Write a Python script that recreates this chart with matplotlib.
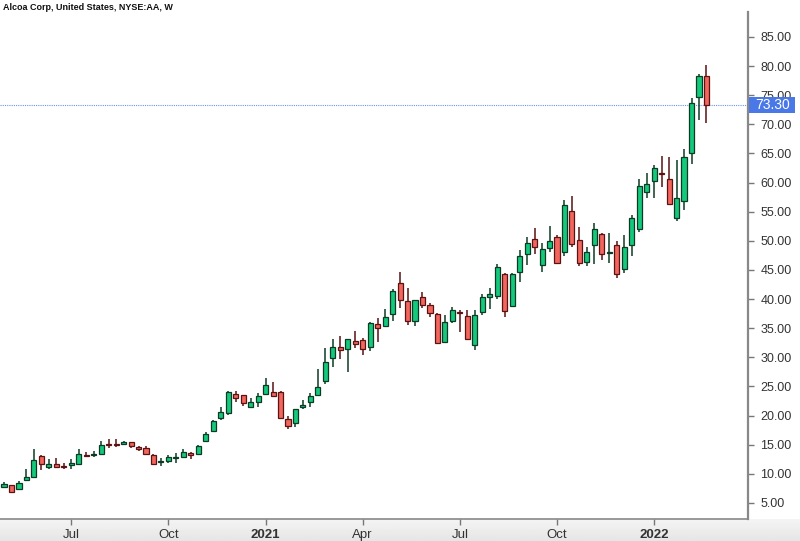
import matplotlib
matplotlib.use('Agg')
import matplotlib.pyplot as plt
import matplotlib.transforms as mtransforms
from matplotlib.patches import Rectangle
import numpy as np
import pandas as pd

TITLE = 'Alcoa Corp, United States, NYSE:AA, W'
FIRST_WEEK = '2020-05-04'

opens = [7.70, 8.00, 7.35, 8.90, 9.50, 13.05, 11.20, 11.75, 11.30, 11.60,
         11.75, 13.30, 13.20, 13.40, 15.15, 15.10, 15.05, 15.40, 14.60, 14.40,
         13.25, 12.00, 12.25, 12.70, 12.95, 13.50, 13.35, 15.65, 17.40, 19.55,
         20.40, 23.75, 23.50, 21.55, 22.40, 23.75, 24.10, 24.10, 19.40, 18.70,
         21.50, 22.40, 23.60, 26.00, 29.85, 31.70, 31.50, 32.80, 32.90, 31.70,
         35.70, 35.40, 37.40, 42.80, 39.70, 36.30, 40.40, 39.00, 37.40, 32.70,
         36.30, 37.75, 37.05, 32.20, 37.75, 40.30, 40.55, 44.30, 38.80, 44.60,
         47.75, 50.30, 45.85, 48.70, 50.70, 48.05, 55.10, 50.15, 46.30, 49.30,
         51.20, 47.90, 49.25, 45.10, 49.30, 52.00, 58.45, 60.30, 61.70, 60.60,
         54.00, 56.90, 65.00, 74.65, 78.30]
highs = [8.55, 8.10, 8.80, 10.90, 14.20, 13.30, 12.50, 12.65, 11.80, 12.50,
         14.20, 13.80, 13.90, 15.70, 16.00, 15.90, 15.70, 15.50, 14.80, 14.70,
         13.40, 12.70, 13.30, 13.50, 14.20, 13.70, 14.90, 17.10, 19.30, 21.40,
         24.30, 24.30, 23.60, 22.95, 23.80, 26.40, 25.70, 24.30, 19.90, 21.20,
         22.60, 23.80, 28.05, 31.60, 33.15, 33.70, 33.20, 34.50, 33.30, 36.10,
         36.70, 38.25, 41.70, 44.60, 41.90, 39.90, 41.30, 39.30, 37.60, 37.30,
         38.70, 38.10, 38.10, 38.10, 40.90, 41.90, 46.00, 44.50, 44.40, 48.40,
         50.60, 52.15, 49.70, 52.60, 51.00, 57.00, 57.70, 52.30, 49.00, 53.00,
         51.30, 51.40, 50.00, 51.00, 54.40, 60.70, 61.70, 63.00, 64.60, 64.45,
         63.90, 65.70, 74.60, 78.60, 80.10]
lows = [7.65, 6.80, 7.30, 8.80, 9.40, 10.70, 10.90, 11.00, 10.90, 10.90,
        11.50, 12.90, 12.90, 13.20, 14.50, 14.60, 14.90, 14.40, 13.95, 13.40,
        11.55, 11.40, 11.90, 11.80, 12.80, 12.50, 13.30, 15.40, 17.20, 19.30,
        20.10, 22.40, 21.70, 21.50, 21.50, 23.50, 23.20, 19.50, 17.65, 18.00,
        21.20, 21.40, 23.40, 25.50, 28.40, 29.70, 27.40, 31.60, 30.35, 31.10,
        32.70, 35.30, 36.20, 38.40, 35.60, 35.30, 38.40, 37.00, 32.30, 32.60,
        35.95, 34.40, 33.00, 31.30, 37.30, 38.25, 40.00, 36.90, 38.60, 42.90,
        45.90, 47.70, 44.70, 48.00, 46.00, 47.40, 49.00, 45.60, 45.60, 46.00,
        46.70, 46.15, 43.60, 44.40, 47.45, 51.60, 57.40, 57.40, 59.30, 56.15,
        53.40, 55.30, 63.20, 70.75, 70.20]
closes = [8.20, 6.85, 8.40, 9.45, 12.30, 11.75, 11.75, 11.20, 11.20, 11.75,
          13.40, 13.10, 13.45, 15.00, 15.00, 14.95, 15.45, 14.70, 14.20, 13.45,
          11.75, 12.10, 12.85, 12.80, 13.70, 13.20, 14.80, 16.80, 19.10, 20.60,
          24.00, 23.10, 22.20, 22.30, 23.30, 25.20, 23.40, 19.55, 18.20, 21.10,
          21.90, 23.40, 24.85, 29.20, 31.70, 31.30, 33.10, 32.35, 31.40, 35.85,
          35.00, 36.90, 41.45, 39.85, 36.30, 39.85, 38.90, 37.55, 32.40, 36.00,
          38.10, 37.60, 33.15, 37.20, 40.40, 40.90, 45.45, 37.95, 44.30, 47.40,
          49.60, 49.00, 48.55, 50.00, 46.15, 56.15, 49.40, 46.15, 48.05, 52.10,
          47.70, 48.05, 44.25, 48.90, 53.90, 59.40, 59.75, 62.55, 61.50, 56.30,
          57.40, 64.35, 73.60, 78.35, 73.30]
last_price = 73.30
price_ticks = [5, 10, 15, 20, 25, 30, 35, 40, 45, 50, 55, 60, 65, 70, 75, 80, 85]

UP_FILL, UP_EDGE = '#14c97b', '#0d3a24'
DOWN_FILL, DOWN_EDGE = '#f2665e', '#5a1212'
LABEL_BLUE = '#4a78e6'


def main():
    weeks = pd.date_range(FIRST_WEEK, periods=len(closes), freq='W-MON')
    o = np.array(opens)
    h = np.array(highs)
    l = np.array(lows)
    c = np.array(closes)
    x = np.arange(len(c))
    up = c >= o

    fig = plt.figure(figsize=(8, 5.41), dpi=100)
    # grey strip under the time axis
    strip = fig.add_axes([0, 0, 1, 0.0407], zorder=0)
    strip.imshow(np.linspace(0.96, 0.90, 20).reshape(-1, 1), cmap='gray', vmin=0, vmax=1,
                 aspect='auto', extent=[0, 1, 0, 1])
    strip.axis('off')

    ax = fig.add_axes([0, 0.0407, 0.935, 0.978 - 0.0407], zorder=1)
    ax.patch.set_alpha(0)

    wick_cols = np.where(up, UP_EDGE, DOWN_EDGE)
    ax.vlines(x, l, h, colors=wick_cols, linewidth=1.1, zorder=2)
    bottoms = np.minimum(o, c)
    heights = np.maximum(np.abs(c - o), 0.18)
    ax.bar(x, heights, bottom=bottoms, width=0.68,
           color=np.where(up, UP_FILL, DOWN_FILL),
           edgecolor=wick_cols, linewidth=0.9, zorder=3)

    ax.axhline(last_price, color='#6d93ec', linewidth=0.8, linestyle=(0, (1, 1)), zorder=1)

    ax.set_xlim(-0.54, 99.56)
    ax.set_ylim(2.25, 89.3)

    # time axis: first weekly bar of each quarter
    pos, labs = [], []
    for i, d in enumerate(weeks):
        if i > 0 and d.month in (1, 4, 7, 10) and weeks[i - 1].month != d.month:
            pos.append(i)
            labs.append(str(d.year) if d.month == 1 else d.strftime('%b'))
    ax.set_xticks(pos)
    ax.set_xticklabels(labs)
    for t in ax.get_xticklabels():
        if t.get_text().isdigit():
            t.set_fontweight('bold')

    ax.yaxis.tick_right()
    ax.set_yticks(price_ticks)
    ax.set_yticklabels([f'{v:.2f}' for v in price_ticks])
    ax.tick_params(axis='y', colors='#777777', labelcolor='#333333', length=4, width=1,
                   labelsize=9, pad=5)
    ax.tick_params(axis='x', colors='#777777', labelcolor='#333333', length=4, width=1,
                   labelsize=9.5, pad=3)
    for t in ax.get_xticklabels() + ax.get_yticklabels():
        t.set_fontfamily('Liberation Sans')

    ax.spines['left'].set_visible(False)
    ax.spines['top'].set_visible(False)
    ax.spines['right'].set_color('#888888')
    ax.spines['right'].set_linewidth(1.6)
    ax.spines['bottom'].set_color('#888888')
    ax.spines['bottom'].set_linewidth(1.2)

    # last price label on the price scale
    trans = mtransforms.blended_transform_factory(ax.transAxes, ax.transData)
    half = 1.4
    ax.add_patch(Rectangle((1.002, last_price - half), 0.061, 2 * half, transform=trans,
                           facecolor=LABEL_BLUE, edgecolor='none', clip_on=False, zorder=5))
    ax.text(1.033, last_price, f'{last_price:.2f}', transform=trans,
            ha='center', va='center', color='white', fontsize=10, family='Liberation Sans',
            zorder=6, clip_on=False)

    fig.text(0.004, 0.987, TITLE, ha='left', va='center', fontsize=6.5,
             fontweight='bold', family='Liberation Sans', color='#111111')

    fig.savefig('out.png', dpi=100)


if __name__ == '__main__':
    main()
